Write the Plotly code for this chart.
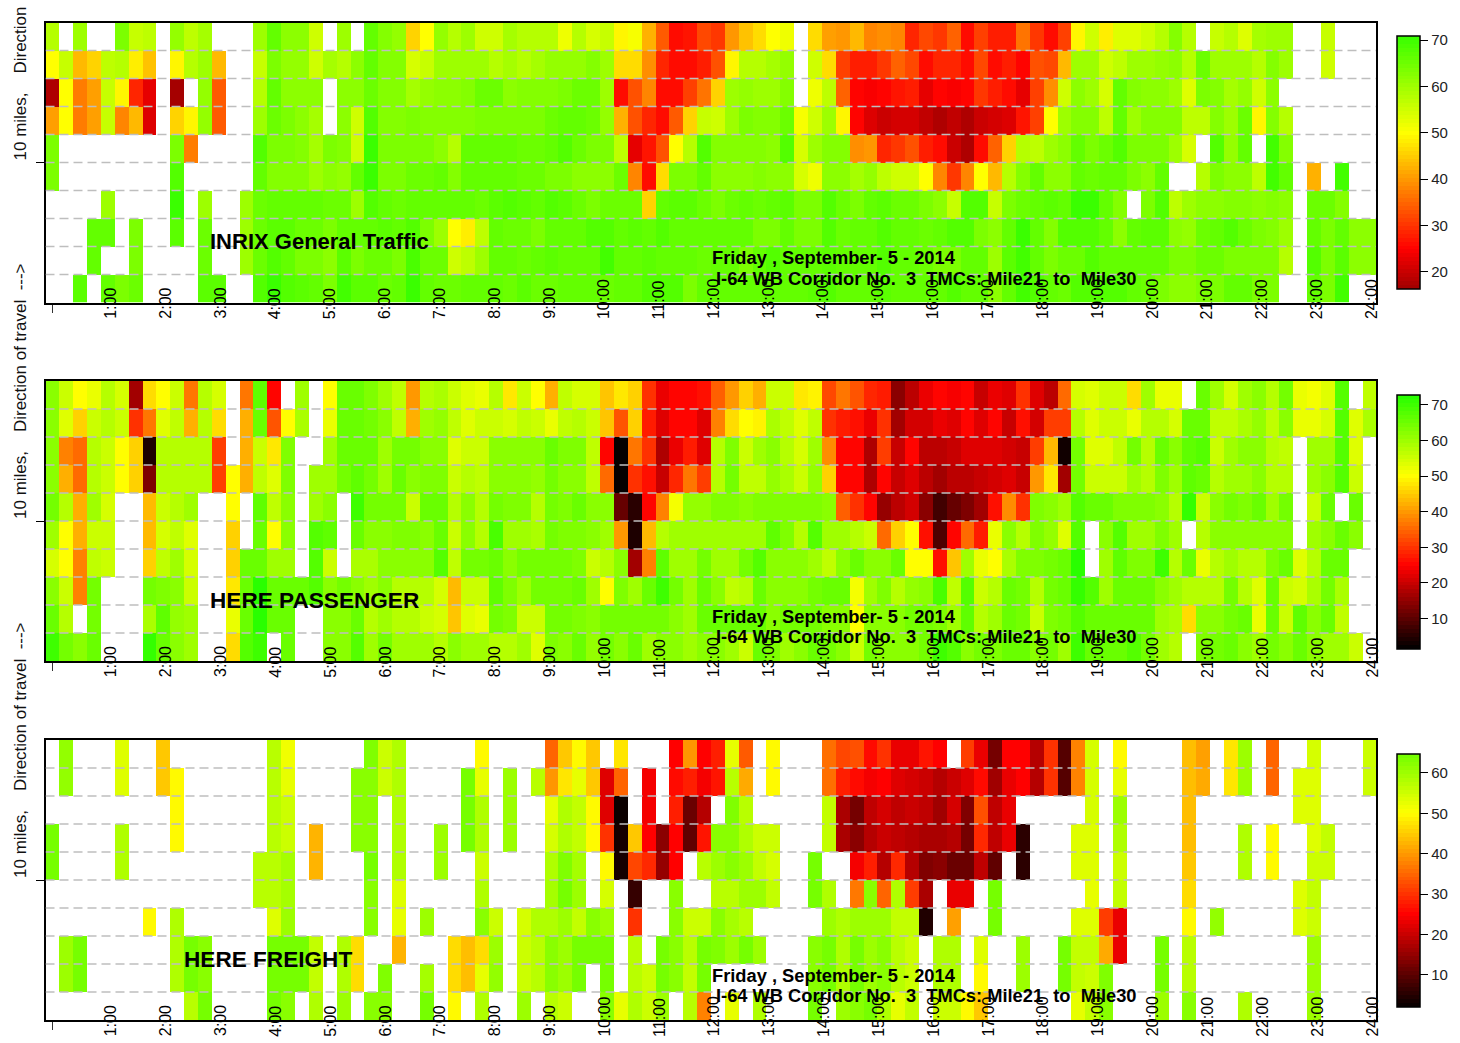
import plotly.graph_objects as go

N = None
W, H = 1460, 1043

hour_labels = [f"{h}:00" for h in range(1, 25)]

inrix = [
 [58,N,60,N,N,64,56,57,N,61,57,59,N,N,N,60,66,62,62,55,N,60,N,66,63,61,46,50,61,58,60]
 +[55,55,59,58,58,58,52,58,54,56,49,51,42,34,26,27,32,30,40,44,47,50,52,N,47,41,40,43,38,39,38,29,32,30]
 +[35,26,31,28,28,36,30,26,31,49,55,48,53,53,55,58,63,58,N,56,58,53,59,60,60,N,N,56,N,N,N],
 [50,56,43,46,57,58,48,44,N,49,58,60,43,N,N,56,64,61,61,55,59,58,62,66,63,63,54,56,60,60,60]
 +[60,58,59,58,59,61,61,61,63,60,47,47,39,29,26,26,28,33,49,58,58,59,61,N,55,47,31,28,28,30,35,32,26,29]
 +[29,26,32,26,28,25,33,32,43,60,60,55,57,60,60,61,62,58,65,60,60,60,58,63,60,N,N,55,N,N,N],
 [18,50,37,41,56,49,29,23,N,16,N,61,34,N,N,58,66,62,62,62,N,62,62,65,63,63,59,61,62,62,63]
 +[65,65,62,63,63,63,64,65,65,60,26,33,38,26,26,31,36,46,60,61,60,60,63,N,52,57,35,25,24,25,27,28,23,25]
 +[24,25,30,28,26,23,31,39,55,62,60,54,66,63,62,62,60,53,64,63,59,61,55,62,N,N,N,N,N,N,N],
 [41,50,37,41,56,38,43,22,N,46,49,61,34,N,N,60,65,64,62,59,N,62,55,68,63,63,64,63,63,63,63]
 +[64,64,64,64,64,65,66,66,65,61,42,33,29,26,34,46,56,55,60,64,63,63,65,51,55,60,49,25,22,20,21,21,19,18]
 +[19,18,20,21,22,27,31,50,60,63,63,57,66,60,63,63,63,57,57,63,60,65,49,63,58,N,N,N,N,N,N],
 [64,N,N,N,N,N,N,N,N,64,37,N,N,N,N,68,64,64,63,59,64,63,55,71,64,64,64,64,62,58,66]
 +[66,66,66,65,65,66,68,65,64,64,57,23,27,33,50,58,68,63,63,63,63,62,68,54,60,63,63,39,40,29,30,33,28,26]
 +[20,18,26,35,46,58,57,60,62,66,64,65,68,64,64,64,60,54,N,68,61,66,N,70,63,N,N,N,N,N,N],
 [64,N,N,N,N,N,N,N,N,68,N,N,N,N,N,66,63,63,63,60,62,61,66,71,64,64,65,65,66,63,66]
 +[66,66,66,65,65,64,64,62,62,62,65,38,26,47,64,64,66,62,62,62,63,62,62,54,52,62,62,59,61,57,55,55,50,38]
 +[30,38,50,43,58,63,66,62,62,66,65,66,66,64,62,66,N,N,58,64,62,62,57,70,66,N,42,N,70,N,N],
 [N,N,N,N,60,N,N,N,N,72,N,60,N,N,60,65,66,66,66,66,65,65,60,68,66,65,66,66,66,66,66]
 +[65,67,68,67,66,68,67,65,64,65,65,65,46,66,67,67,65,64,65,66,65,66,67,64,64,68,65,64,66,67,65,65,64,62]
 +[56,68,68,56,64,65,66,67,66,71,72,66,63,N,64,68,57,60,62,62,63,63,62,63,62,N,65,65,63,N,N],
 [N,N,N,66,66,N,64,N,N,67,N,65,N,N,60,65,67,67,65,65,64,66,66,66,67,66,68,64,60,50,48]
 +[57,66,65,65,64,66,66,66,68,68,66,67,66,68,66,66,66,66,66,66,64,64,66,64,64,68,65,66,66,68,66,66,65,66]
 +[68,68,64,62,66,71,66,63,68,68,68,66,62,66,67,67,62,61,65,66,68,65,64,63,60,N,66,64,66,62,62],
 [N,N,N,66,N,N,64,N,N,N,N,65,N,N,60,65,68,66,64,64,62,67,64,65,65,64,69,65,65,55,57]
 +[60,66,66,65,66,67,66,66,66,70,66,66,67,66,66,66,65,66,66,64,66,68,66,66,66,67,66,66,66,68,66,66,65,64]
 +[64,66,66,60,67,70,66,64,65,65,68,66,66,66,66,66,64,64,65,65,64,64,64,64,58,N,68,64,67,62,62],
 [N,N,67,N,66,64,65,N,N,N,N,67,67,N,N,68,72,68,67,66,64,70,67,67,65,66,72,66,65,65,66]
 +[66,66,65,67,65,65,66,66,66,65,66,66,68,68,68,64,66,66,66,66,66,66,66,66,67,68,66,66,66,67,66,66,66,66]
 +[68,66,66,62,66,70,68,66,65,68,68,68,68,66,65,64,62,62,64,64,66,66,64,64,N,N,66,64,70,N,N],
]

here_passenger = [
 [62,56,50,52,58,54,16,47,50,56,37,58,54,N,36,67,25,N,60,N,50,66,65,63,60,57,40,58,59,56,53]
 +[52,58,48,55,50,42,57,54,54,44,48,45,30,23,25,25,27,34,40,45,42,55,55,48,49,32,36,33,29,28,14,19,23,25]
 +[24,25,20,23,22,30,22,19,35,54,53,55,55,47,60,52,52,N,65,60,54,60,62,58,64,52,51,53,68,N,57],
 [62,53,46,55,58,55,30,36,53,57,42,58,47,N,42,66,33,50,59,N,52,66,66,64,62,57,42,60,61,57,53]
 +[56,56,54,57,55,52,57,58,56,44,33,46,28,22,25,25,22,38,47,50,49,59,57,53,57,30,28,27,23,30,17,21,21,23]
 +[22,25,22,25,20,26,21,31,31,58,53,55,55,52,58,58,54,66,66,57,57,59,61,57,62,52,52,54,68,53,59],
 [62,38,35,58,55,50,45,4,58,58,58,58,31,N,42,55,48,63,N,N,60,66,66,65,60,64,64,62,62,53,56]
 +[56,62,62,62,62,66,63,63,57,25,1,37,30,18,23,28,22,58,63,56,60,62,58,54,60,39,25,25,18,31,20,25,19,19]
 +[20,22,22,22,21,20,31,43,3,64,53,53,57,64,58,65,62,67,68,56,60,62,62,58,57,N,60,60,68,53,N],
 [62,42,35,58,55,50,45,13,58,58,58,58,31,50,42,57,53,63,N,60,60,64,67,64,60,66,62,63,63,56,58]
 +[57,62,62,62,61,64,62,62,57,35,2,30,26,20,29,37,31,58,64,57,57,61,59,55,61,46,25,25,18,25,20,22,19,17]
 +[19,19,20,21,22,20,40,48,17,64,56,55,56,60,58,63,60,67,65,58,60,60,62,58,58,N,60,62,68,56,N],
 [64,58,42,60,54,N,N,43,56,58,60,N,N,50,N,67,57,62,N,60,62,N,70,64,64,64,55,66,66,58,62]
 +[58,64,63,63,58,64,63,66,62,62,11,5,25,38,51,61,61,63,63,62,63,63,63,63,63,62,34,30,25,15,19,21,14,7]
 +[11,13,16,27,39,30,63,62,60,68,65,66,63,63,63,62,58,71,56,62,64,63,65,60,64,N,56,66,N,65,N],
 [60,50,42,56,55,N,N,43,54,57,53,N,N,45,N,66,50,62,N,68,67,N,66,62,62,63,63,62,65,55,62]
 +[58,69,60,60,59,64,63,63,62,60,40,4,43,58,60,60,60,60,60,60,60,67,63,58,68,60,60,58,55,35,45,50,27,9]
 +[25,35,28,52,62,58,63,61,53,68,N,62,68,60,60,63,60,N,58,62,62,62,62,62,62,N,60,62,66,62,N],
 [54,50,38,57,55,N,N,46,57,60,54,N,N,45,66,66,60,60,N,68,55,N,59,59,62,62,62,62,68,57,64]
 +[64,66,62,64,64,64,64,63,55,58,62,17,38,67,60,60,64,60,60,64,68,62,62,62,60,57,62,65,62,62,66,50,50,27]
 +[44,60,52,50,59,63,63,64,66,73,N,60,67,63,63,70,58,65,52,58,60,58,58,63,65,53,58,66,66,N,N],
 [62,56,38,64,N,N,N,64,63,62,55,N,N,48,66,72,66,66,66,68,62,64,62,60,62,58,58,58,54,43,55]
 +[55,67,63,60,64,64,64,66,60,50,63,60,66,70,64,60,65,62,57,58,66,62,62,62,64,66,65,51,60,63,58,61,62,69]
 +[57,68,56,58,66,64,58,64,66,71,68,60,65,65,65,62,60,58,58,58,64,58,53,65,55,54,59,64,59,N,N],
 [66,58,N,64,N,N,N,59,67,61,60,N,N,52,66,72,65,65,N,N,62,62,66,58,60,58,58,55,54,44,53]
 +[52,64,63,55,55,64,64,63,62,64,64,64,64,64,62,60,66,66,66,66,66,62,64,64,64,62,62,50,62,62,62,64,64,63]
 +[60,67,58,60,66,64,55,63,64,68,66,66,66,66,66,60,59,47,62,62,64,66,52,66,56,67,62,66,57,N,N],
 [70,64,62,66,N,N,N,71,66,62,60,N,N,47,68,70,N,65,N,N,62,62,68,60,64,60,60,60,58,62,60]
 +[60,58,58,60,53,63,62,66,61,64,62,66,60,62,62,60,62,62,60,55,65,63,60,62,65,64,62,56,64,62,62,62,64,70]
 +[68,62,64,63,66,66,62,64,60,70,66,66,66,68,64,60,58,N,63,64,66,62,60,64,62,66,62,60,60,56,N],
]

here_freight = [
 [N,61,N,N,N,53,N,N,45,N,N,N,N,N,N,N,57,51,N,N,N,N,N,63,55,58,N,N,N,N,N]
 +[50,N,N,N,N,35,45,50,45,N,48,N,N,N,25,40,25,28,52,34,N,50,N,N,N,36,32,33,26,30,23,23,27,25]
 +[N,31,23,12,25,25,18,30,9,38,54,N,50,N,N,N,N,44,41,N,48,60,N,35,N,N,54,N,N,N,55],
 [N,61,N,N,N,53,N,N,45,50,N,N,N,N,N,N,57,52,N,N,N,N,62,62,55,58,N,N,N,N,65]
 +[52,N,60,N,57,40,48,52,45,22,35,N,24,N,26,28,24,27,57,42,N,50,N,N,N,36,28,26,24,25,22,21,20,18]
 +[20,22,26,16,23,25,18,30,9,38,54,N,52,N,N,N,N,44,42,N,48,60,N,35,N,53,53,N,N,N,55],
 [N,N,N,N,N,N,N,N,N,50,N,N,N,N,N,N,57,55,N,N,N,N,62,62,N,58,N,N,N,N,65]
 +[58,N,60,N,N,52,58,56,50,22,1,N,24,N,28,11,18,N,63,57,N,N,N,N,N,56,17,12,19,21,19,20,19,16]
 +[21,13,33,19,23,N,N,N,N,N,54,N,60,N,N,N,N,44,N,N,N,N,N,N,N,53,53,N,N,N,N],
 [66,N,N,N,N,58,N,N,N,50,N,N,N,N,N,N,57,55,N,43,N,N,62,62,N,58,N,N,60,N,65]
 +[58,N,60,N,N,54,58,56,50,30,3,45,25,14,25,10,27,62,62,58,55,55,N,N,N,56,17,14,18,20,19,18,17,17]
 +[18,12,29,19,23,5,N,N,N,53,53,N,58,N,N,N,N,44,N,N,N,58,N,50,N,N,53,56,N,N,N],
 [66,N,N,N,N,58,N,N,N,N,N,N,N,N,N,57,57,59,N,43,N,N,N,66,N,58,N,N,60,N,N]
 +[55,N,N,N,N,58,63,59,N,50,3,32,29,15,25,N,57,60,62,60,56,54,N,N,64,N,N,24,28,18,29,18,13,14]
 +[11,11,19,10,N,5,N,N,N,53,53,N,55,N,N,N,N,45,N,N,N,58,N,50,N,N,55,55,N,N,N],
 [N,N,N,N,N,N,N,N,N,N,N,N,N,N,N,57,57,59,N,N,N,N,N,62,N,53,N,N,N,N,N]
 +[58,N,N,N,N,59,64,60,N,54,N,6,N,N,62,N,N,57,57,60,60,56,N,N,65,58,N,37,62,35,58,31,17,N]
 +[23,23,N,65,N,N,N,N,N,N,52,N,56,N,N,N,N,47,N,N,N,N,N,N,N,53,56,N,N,N,N],
 [N,N,N,N,N,N,N,50,N,58,N,N,N,N,N,N,53,60,N,N,N,N,N,62,N,52,N,60,N,N,N]
 +[62,55,N,54,58,58,60,56,62,60,N,30,N,N,62,55,55,62,59,57,N,N,N,N,N,60,58,60,60,60,56,56,4,N]
 +[41,N,N,65,N,N,N,N,N,53,53,31,23,N,N,N,N,50,N,61,N,N,N,N,N,53,55,N,N,N,N],
 [N,60,65,N,N,N,N,N,N,58,64,62,N,N,N,N,64,64,67,56,N,58,47,N,N,43,N,N,N,47,44]
 +[47,60,N,55,57,62,60,66,64,65,N,57,N,68,62,57,64,63,60,66,60,N,N,N,62,65,58,65,60,62,57,55,N,58]
 +[58,N,53,N,N,60,N,N,64,56,56,42,23,N,N,65,N,57,N,N,N,N,N,N,N,N,60,N,N,N,N],
 [N,60,65,N,N,N,N,N,N,58,64,62,N,N,N,N,64,64,66,56,N,58,47,N,63,N,N,59,N,47,44]
 +[52,61,N,55,57,62,60,66,N,65,N,57,55,66,62,56,64,N,N,N,N,N,N,N,62,65,58,65,60,62,57,55,N,58]
 +[58,N,50,N,N,60,N,N,64,56,55,63,N,N,N,65,N,57,N,N,N,N,N,N,N,N,60,N,N,N,N],
 [N,N,N,N,N,N,N,N,N,N,57,67,N,N,N,N,65,62,N,58,N,60,N,62,62,N,N,64,N,50,N]
 +[58,N,N,60,N,57,55,N,N,62,52,58,55,60,N,57,38,N,52,N,58,N,N,N,64,N,60,62,64,58,52,56,N,55]
 +[55,50,45,N,N,N,N,N,N,52,56,62,N,N,N,60,N,62,N,N,N,58,N,N,N,N,60,N,N,N,N],
]

for m in (inrix, here_passenger, here_freight):
    for r in m:
        assert len(r) == 96, len(r)

ANCHORS = [(1.5, (0, 0, 0)), (25, (255, 0, 0)), (50, (255, 255, 0)), (76.5, (0, 255, 0))]


def color(v):
    v = max(ANCHORS[0][0], min(ANCHORS[-1][0], v))
    for (a, ca), (b, cb) in zip(ANCHORS, ANCHORS[1:]):
        if v <= b:
            t = (v - a) / (b - a)
            return "rgb(%d,%d,%d)" % tuple(round(p + (q - p) * t) for p, q in zip(ca, cb))


def bands(lo, hi, n=64):
    out = []
    for i in range(n):
        c = color(lo + (i + 0.5) / n * (hi - lo))
        out += [[i / n, c], [(i + 1) / n, c]]
    return out


def px(x):
    return x / W


def py(y):
    return 1 - y / H


FONT = "Liberation Sans, Arial, sans-serif"
panels = [
    dict(z=inrix, top=22.5, bar=(36, 289), lo=16.3, hi=70.9, ticks=[20, 30, 40, 50, 60, 70], name="INRIX General Traffic", nx=208, ns=22,
         ylabel="10 miles,\u00a0\u00a0\u00a0\u00a0Direction"),
    dict(z=here_passenger, top=381, bar=(395, 649), lo=1.4, hi=72.8, ticks=[10, 20, 30, 40, 50, 60, 70], name="HERE PASSENGER", nx=208, ns=22.6,
         ylabel="10 miles,\u00a0\u00a0\u00a0\u00a0Direction of travel\u00a0\u00a0--->"),
    dict(z=here_freight, top=740, bar=(754, 1007), lo=2, hi=64.7, ticks=[10, 20, 30, 40, 50, 60], name="HERE FREIGHT", nx=182, ns=22.6,
         ylabel="10 miles,\u00a0\u00a0\u00a0\u00a0Direction of travel\u00a0\u00a0--->"),
]

fig = go.Figure()
annotations, shapes = [], []
layout = {}
for i, p in enumerate(panels):
    s = "" if i == 0 else str(i + 1)
    fig.add_trace(go.Heatmap(
        z=p["z"], x=list(range(96)), y=list(range(10)),
        xaxis="x" + s, yaxis="y" + s, zmin=p["lo"], zmax=p["hi"],
        colorscale=bands(p["lo"], p["hi"]), hoverongaps=False,
        colorbar=dict(
            x=px(1397), xanchor="left", xpad=0, y=py(p["bar"][1]), yanchor="bottom", ypad=0,
            len=p["bar"][1] - p["bar"][0], lenmode="pixels", thickness=23, thicknessmode="pixels",
            outlinecolor="black", outlinewidth=1.5, borderwidth=0,
            tickmode="array", tickvals=p["ticks"], ticks="outside", ticklen=8, tickwidth=1, tickcolor="black",
            tickprefix="\u00a0\u00a0", tickfont=dict(family=FONT, size=15, color="#222"),
        ),
    ))
    top, bottom = p["top"], p["top"] + 280
    layout["xaxis" + s] = dict(
        domain=[px(45.5), px(1376)], range=[-0.5, 95.5], anchor="y" + s,
        showgrid=False, zeroline=False, showline=True, mirror=True, linecolor="black", linewidth=2,
        tickmode="array", tickvals=[0], ticktext=[""],
        ticks="outside", ticklen=8, tickcolor="#333",
    )
    layout["yaxis" + s] = dict(
        domain=[py(bottom), py(top)], range=[9.5, -0.5], anchor="x" + s,
        showgrid=False, zeroline=False, showline=True, mirror=True, linecolor="black", linewidth=2,
        tickmode="array", tickvals=[4.5], ticktext=[""], ticks="outside", ticklen=8, tickcolor="black",
    )
    for k in range(9):
        shapes.append(dict(type="line", xref="x" + s, yref="y" + s, x0=-0.5, x1=95.5, y0=k + 0.5, y1=k + 0.5,
                           line=dict(color="#bebebe", width=1.5, dash="9px,5px"), layer="above"))
    for h, lab in enumerate(hour_labels, start=1):
        annotations.append(dict(text=lab, x=h * 95 / 24, xref="x" + s, y=py(bottom + 17.5), yref="paper",
                                xanchor="center", yanchor="bottom", textangle=-90, showarrow=False, xshift=3,
                                borderpad=0, font=dict(family=FONT, size=16, color="black")))
    annotations.append(dict(text="<b>%s</b>" % p["name"], x=px(p["nx"]), y=py(top + 219), xref="paper", yref="paper",
                            xanchor="left", yanchor="middle", showarrow=False,
                            font=dict(family=FONT, size=p["ns"], color="black")))
    annotations.append(dict(text="<b>Friday , September- 5 - 2014</b>", x=px(710), y=py(top + 235), xref="paper", yref="paper",
                            xanchor="left", yanchor="middle", showarrow=False,
                            font=dict(family=FONT, size=18.3, color="black")))
    annotations.append(dict(text="<b>I-64 WB Corridor No.\u00a0\u00a03\u00a0\u00a0TMCs: Mile21\u00a0\u00a0to\u00a0\u00a0Mile30</b>",
                            x=px(714), y=py(top + 255.5), xref="paper", yref="paper",
                            xanchor="left", yanchor="middle", showarrow=False,
                            font=dict(family=FONT, size=18.3, color="black")))
    annotations.append(dict(text=p["ylabel"], x=px(20), y=py(top + 140),
                            xref="paper", yref="paper", xanchor="center", yanchor="bottom", textangle=-90, showarrow=False,
                            font=dict(family=FONT, size=17, color="#111")))

fig.update_layout(
    width=W, height=H, margin=dict(l=0, r=0, t=0, b=0), paper_bgcolor="white", plot_bgcolor="white",
    annotations=annotations, shapes=shapes, showlegend=False, **layout,
)
fig.write_html("out.html", config={"displayModeBar": False},
               post_script="document.body.style.margin='0';document.body.style.overflow='hidden';")
